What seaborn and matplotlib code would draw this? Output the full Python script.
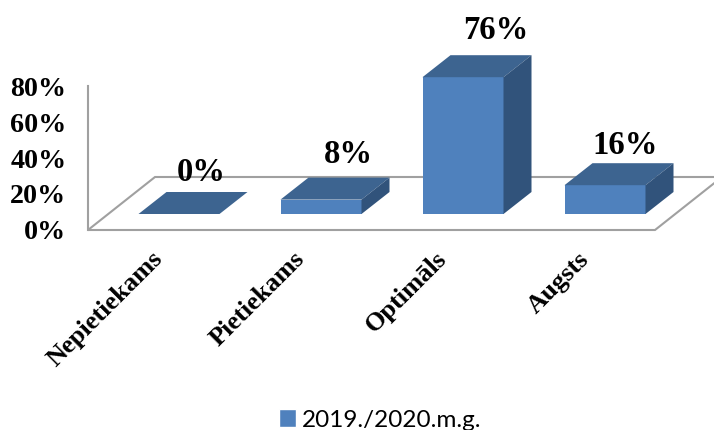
import matplotlib
matplotlib.use("Agg")
import matplotlib.pyplot as plt
import pandas as pd
import seaborn as sns
from matplotlib.patches import Polygon
from matplotlib.transforms import ScaledTranslation

categories = ["Nepietiekams", "Pietiekams", "Optimāls", "Augsts"]
values = [0, 8, 76, 16]
value_labels = ["0%", "8%", "76%", "16%"]
y_ticks = [0, 20, 40, 60, 80]
y_tick_labels = ["0%", "20%", "40%", "60%", "80%"]
series_name = "2019./2020.m.g."

W, H = 714, 430
FRONT, TOP, SIDE = "#4f81bd", "#3d6490", "#31537b"
GRID = "#a0a0a0"
DX, DY = 28, 22   # bar depth in pixels
label_shift_px = [(22, 25.5), (27, 29.5), (33, 31.5), (20, 24.5)]  # label placement, px

def fx(px): return px / W
def fy(py): return 1 - py / H

sns.set_theme(style="white")
plt.rcParams["font.family"] = ["Liberation Serif", "DejaVu Sans"]
fig = plt.figure(figsize=(W / 100, H / 100), dpi=100)

# Frame axes: pixel-sized, holds floor and wall line
frame = fig.add_axes([fx(88), fy(230), fx(714 - 88), (230 - 86) / H])
frame.set_xlim(0, 714 - 88)
frame.set_ylim(0, 80)
frame.patch.set_alpha(0)
frame.set_xticks([])
frame.set_yticks(y_ticks, y_tick_labels, fontsize=20.2, fontweight="bold", color="black")
frame.tick_params(axis="y", length=0, pad=15.5)
for name, sp in frame.spines.items():
    sp.set_visible(name == "left")
frame.spines["left"].set_color(GRID)
frame.spines["left"].set_linewidth(1.5)
u = 80 / 144
floor = Polygon([(0, 0), (67, 53 * u), (634, 53 * u), (567, 0)], closed=True,
                fill=False, edgecolor=GRID, linewidth=1.5, clip_on=False)
frame.add_patch(floor)

# Bar axes: seaborn draws front faces
df = pd.DataFrame({"category": categories, "value": values})
ax = fig.add_axes([fx(108), fy(214), fx(568), (214 - 70) / H])
ax.patch.set_alpha(0)
sns.barplot(data=df, x="category", y="value", color=FRONT, saturation=1,
            width=81 / 142, ax=ax, zorder=3, linewidth=0)
ax.set_xlim(-0.5, 3.5)
ax.set_ylim(0, 80)
ax.set_xlabel("")
ax.set_ylabel("")
ax.set_yticks([])
sns.despine(ax=ax, left=True, bottom=True)
ax.set_xticks(range(len(categories)))
ax.set_xticklabels(categories, rotation=45, ha="right", rotation_mode="anchor",
                   fontsize=19, fontweight="bold", color="black")
ax.tick_params(axis="x", length=0, pad=24)
shift = ScaledTranslation(-0.28, 0, fig.dpi_scale_trans)
for lab in ax.get_xticklabels():
    lab.set_transform(lab.get_transform() + shift)

# Depth faces derived from each bar
to_disp = ax.transData
sx, sy = to_disp.transform((1, 1)) - to_disp.transform((0, 0))
ddx, ddy = DX / sx, DY / sy
for bar, v, lab, (ox, oy) in zip(ax.patches, values, value_labels, label_shift_px):
    x0, x1 = bar.get_x(), bar.get_x() + bar.get_width()
    ax.add_patch(Polygon([(x0, v), (x0 + ddx, v + ddy), (x1 + ddx, v + ddy), (x1, v)],
                         facecolor=TOP, edgecolor="none", clip_on=False, zorder=4))
    ax.add_patch(Polygon([(x1, 0), (x1 + ddx, ddy), (x1 + ddx, v + ddy), (x1, v)],
                         facecolor=SIDE, edgecolor="none", clip_on=False, zorder=4))
    ax.annotate(lab, ((x0 + x1) / 2, v), xytext=(ox * 0.72, oy * 0.72), textcoords="offset points",
                ha="center", va="bottom", fontsize=23.5, fontweight="bold", color="black",
                annotation_clip=False, zorder=6)

# Legend
handle = plt.Rectangle((0, 0), 1, 1, facecolor=FRONT)
fig.legend([handle], [series_name], loc="center", bbox_to_anchor=(fx(380), fy(420)),
           frameon=False, handlelength=0.7, handleheight=0.7, handletextpad=0.25,
           prop={"family": "Lato", "size": 17.5}, labelcolor="black")

fig.savefig("out.png", dpi=100)
